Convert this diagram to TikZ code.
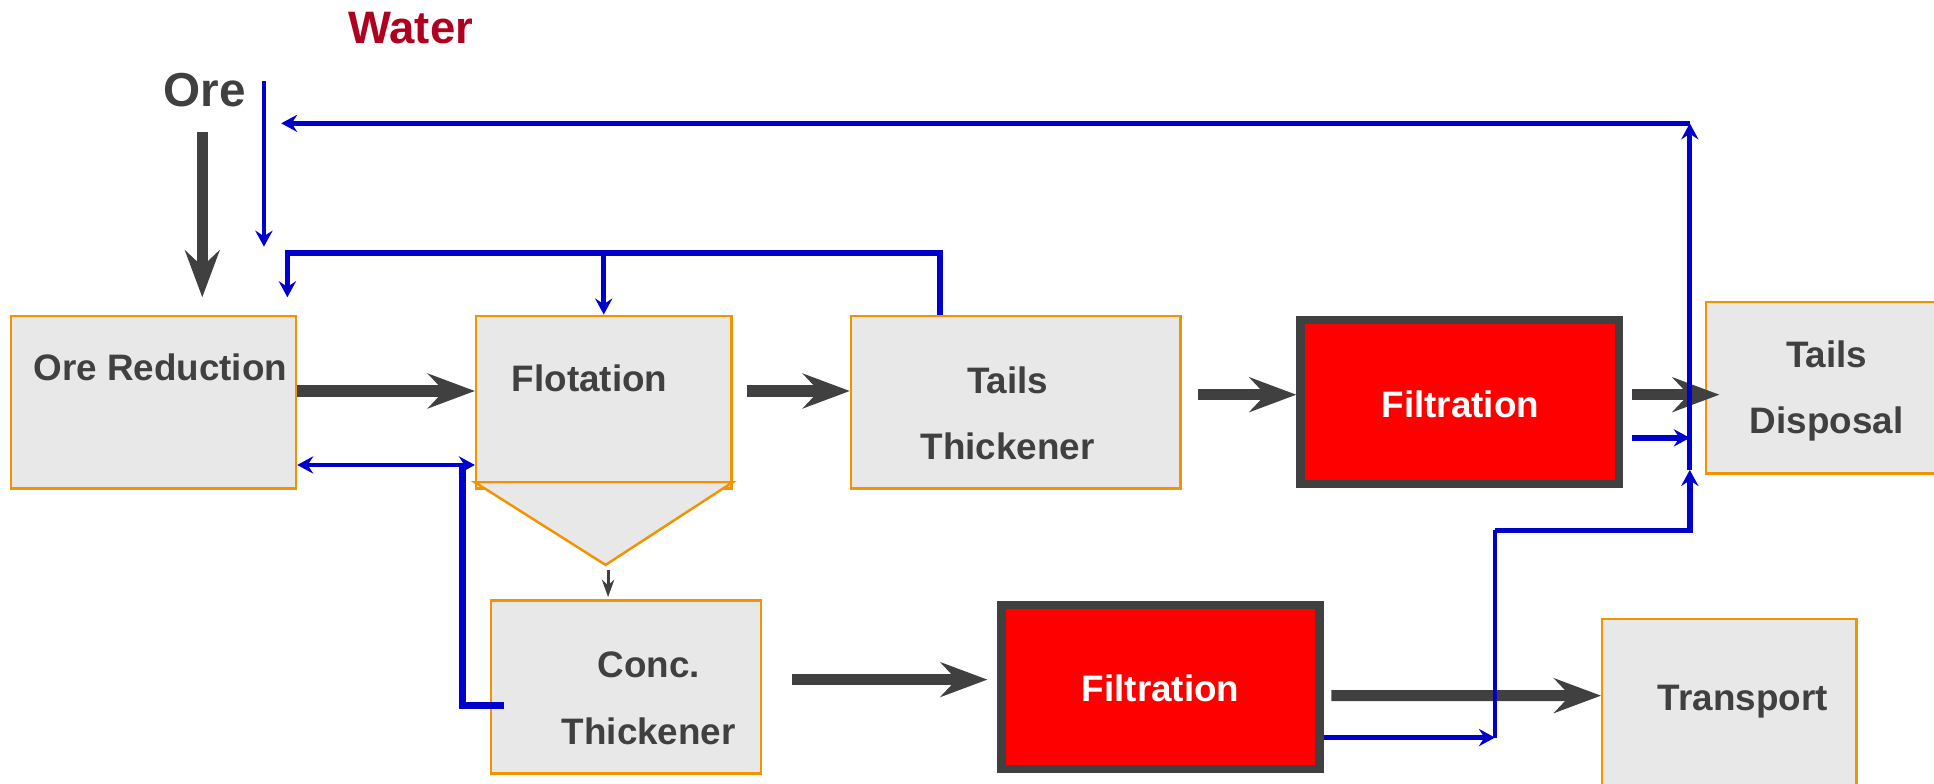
\documentclass[tikz,border=0pt]{standalone}
\usepackage{fontspec}
\setmainfont{Liberation Sans}
\usepackage{tikz}
\usetikzlibrary{calc,positioning,arrows.meta}
\usepackage{xcolor}
\definecolor{mygray}{RGB}{64,64,65}
\definecolor{myfill}{RGB}{232,232,232}
\definecolor{myorange}{RGB}{242,148,0}
\definecolor{myblue}{RGB}{0,0,204}
\definecolor{mydarkred}{RGB}{176,0,32}
\definecolor{myred}{RGB}{255,0,0}

\tikzset{
  unit/.style={draw=myorange, fill=myfill, line width=0.04cm, rectangle, inner sep=0pt},
  filter/.style={draw=mygray, fill=myred, line width=0.14cm, rectangle, inner sep=0pt},
  lbl/.style={text=mygray, font=\fontsize{17}{30.7}\selectfont\bfseries, align=center, inner sep=0pt},
  main/.style={mygray, line width=0.18cm, -{Stealth[length=0.76cm,width=0.56cm,inset=0.26cm]}},
  feed/.style={mygray, line width=0.05cm, -{Stealth[length=0.28cm,width=0.2cm]}},
  water/.style={myblue, line width=0.075cm},
  wflow/.style={water, -{Stealth[length=0.26cm,width=0.28cm,inset=0.09cm]}},
  wboth/.style={water, {Stealth[length=0.26cm,width=0.28cm,inset=0.09cm]}-{Stealth[length=0.26cm,width=0.28cm,inset=0.09cm]}}
}

\begin{document}
\begin{tikzpicture}[x=0.02cm,y=-0.02cm]
  \useasboundingbox (0,0) rectangle (1568,635);

  % Units
  \node[unit, minimum width=4.62cm, minimum height=2.8cm] (ored) at (124.5,326) {};
  \node[unit, minimum width=4.14cm, minimum height=2.8cm] (flot) at (489.5,326) {};
  \node[unit, minimum width=5.34cm, minimum height=2.8cm] (tthick) at (823.5,326) {};
  \node[filter, minimum width=5.16cm, minimum height=2.66cm] (filt1) at (1183.5,326) {};
  \node[unit, minimum width=3.76cm, minimum height=2.78cm] (tdisp) at (1477,314.5) {};
  \node[unit, minimum width=4.38cm, minimum height=2.8cm] (cthick) at (507.5,557) {};
  \node[filter, minimum width=5.16cm, minimum height=2.66cm] (filt2) at (941,557) {};
  \node[unit, minimum width=4.12cm, minimum height=2.8cm] (transp) at (1402,572) {};

  % Flotation cone
  \coordinate (cone-tip) at (491,458);
  \filldraw[fill=myfill, draw=myorange, line width=0.04cm] ([yshift=0.12cm]flot.south west) -- ([yshift=0.12cm]flot.south east) -- (cone-tip) -- cycle;

  % Labels
  \node[lbl] (ored-t) at (130,298) {Ore Reduction};
  \node[lbl] (flot-t) at (478,307) {Flotation};
  \node[lbl] (tthick-t) at (817,335) {Tails\\Thickener};
  \node[lbl, text=white] (filt1-t) at (1184,328) {Filtration};
  \node[lbl] (tdisp-t) at (1481,317) {Tails\\Disposal};
  \node[lbl] (cthick-t) at (526,566) {Conc.\\Thickener};
  \node[lbl, text=white] (filt2-t) at (941,558) {Filtration};
  \node[lbl] (transp-t) at (1413,569) {Transport};
  \node[lbl, font=\fontsize{22}{26}\selectfont\bfseries] (ore) at (166,73) {Ore};
  \node[lbl, text=mydarkred, font=\fontsize{21}{25}\selectfont\bfseries] (water) at (333,23) {Water};

  % Ore and water feed
  \coordinate (ore-in) at (164,107);
  \coordinate (w-in) at (214,66);
  \coordinate (w-out) at (214,200);
  \draw[main, shorten >=0.28cm] (ore-in) -- (ore-in |- ored.north);
  \draw[wflow] (w-in) -- (w-out);

  % Solids
  \draw[main] ([yshift=0.18cm]ored.east) -- ([yshift=0.18cm]flot.west);
  \draw[main] ([xshift=0.24cm,yshift=0.18cm]flot.east) -- ([yshift=0.18cm]tthick.west);
  \draw[main] ([xshift=0.26cm,yshift=0.12cm]tthick.east) -- ([yshift=0.12cm]filt1.west);
  \draw[main, shorten >=-0.24cm] ([xshift=0.14cm,yshift=0.12cm]filt1.east) coordinate (f1-out) -- (f1-out -| tdisp.west);
  \draw[feed, shorten >=0.04cm] ([xshift=0.04cm,yshift=-0.08cm]cone-tip) -- ([xshift=0.04cm]cone-tip |- cthick.north);
  \draw[main, shorten >=0.16cm] ([xshift=0.48cm,yshift=0.12cm]cthick.east) -- ([yshift=0.12cm]filt2.west);
  \draw[main] ([xshift=0.12cm,yshift=-0.14cm]filt2.east) -- ([yshift=0.16cm]transp.west);

  % Water recycle
  \coordinate (ov-l) at (233,205);
  \draw[wflow, line width=0.09cm, shorten >=0.28cm] ([xshift=-1.23cm]tthick.north) |- (ov-l) -- (ov-l |- ored.north);
  \draw[wflow] (ov-l -| flot.north) -- (flot.north);
  \draw[wboth] ([yshift=-1.02cm]ored.east) -- ([yshift=-1.02cm]flot.west);
  \draw[water, line width=0.1cm] ([xshift=0.24cm,yshift=-0.3cm]cthick.west) -| ([xshift=-0.2cm,yshift=-1.02cm]flot.west);

  \coordinate (ret-lo) at (1370,381);
  \coordinate (ret-hi) at (1370,100);
  \coordinate (low-bend) at (1212,430);
  \draw[wflow] (ret-lo) -- (ret-hi);
  \draw[wflow, shorten >=0.28cm] (ret-hi) -- (ret-hi -| w-in);
  \draw[wflow, line width=0.09cm] ([xshift=0.14cm,yshift=-0.58cm]filt1.east) coordinate (f1-w) -- (f1-w -| ret-lo);
  \draw[wflow] ([yshift=-0.82cm]filt2.east) coordinate (f2-w) -- (f2-w -| low-bend);
  \draw[water] (f2-w -| low-bend) -- (low-bend);
  \draw[wflow, line width=0.09cm] (low-bend) -| (ret-lo);
\end{tikzpicture}
\end{document}
